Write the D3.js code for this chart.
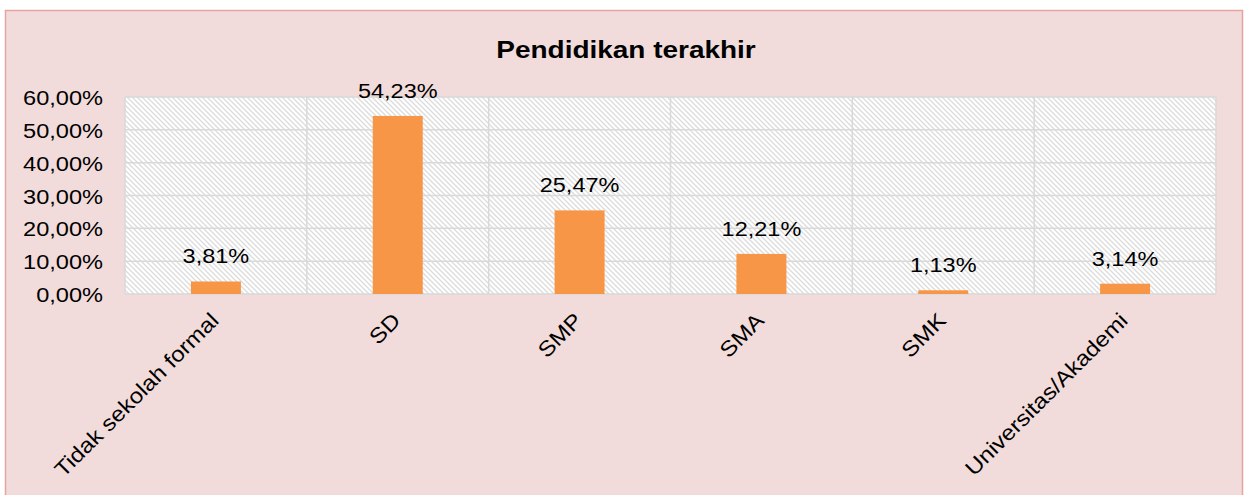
<!DOCTYPE html>
<html>
<head>
<meta charset="utf-8">
<title>Pendidikan terakhir</title>
<script src="https://d3js.org/d3.v7.min.js"></script>
<style>
    body { margin: 0; background: #ffffff; }
    text { font-family: "Liberation Sans", Arial, sans-serif; fill: #000; }
</style>
</head>
<body>
<div id="chart"></div>
<script>
    var categories = ["Tidak sekolah formal", "SD", "SMP", "SMA", "SMK", "Universitas/Akademi"];
    var values = [3.81, 54.23, 25.47, 12.21, 1.13, 3.14];
    var yTicks = [0, 10, 20, 30, 40, 50, 60];

    var width = 1245, height = 495;
    var margin = { left: 125, right: 29, top: 97, bottom: 201 };
    var pct = function (d) { return d3.format(".2f")(d).replace(".", ",") + "%"; };

    var svg = d3.select("#chart").append("svg")
        .attr("width", width)
        .attr("height", height);

    // hatch pattern for plot background
    var defs = svg.append("defs");
    var pat = defs.append("pattern")
        .attr("id", "hatch")
        .attr("patternUnits", "userSpaceOnUse")
        .attr("width", 5)
        .attr("height", 5);
    pat.append("rect").attr("width", 5).attr("height", 5).attr("fill", "#ffffff");
    pat.append("path")
        .attr("d", "M-1,-1 L6,6 M-1,4 L1,6 M4,-1 L6,1")
        .attr("stroke", "#dcdcdc")
        .attr("stroke-width", 1.3);

    // outer chart area
    svg.append("rect")
        .attr("x", 5.5).attr("y", 10.5)
        .attr("width", 1237).attr("height", 490)
        .attr("fill", "#f2dcdb")
        .attr("stroke", "#e6a3a3")
        .attr("stroke-width", 1.5);

    svg.append("text")
        .attr("transform", "translate(626,58) scale(1.19,1)")
        .attr("text-anchor", "middle")
        .attr("font-size", 23.5)
        .attr("font-weight", "bold")
        .text("Pendidikan terakhir");

    var x = d3.scaleBand()
        .domain(categories)
        .range([margin.left, width - margin.right])
        .paddingInner(0).paddingOuter(0);

    var y = d3.scaleLinear()
        .domain([0, 60])
        .range([height - margin.bottom, margin.top]);

    svg.append("rect")
        .attr("x", margin.left).attr("y", margin.top)
        .attr("width", x.range()[1] - margin.left)
        .attr("height", y(0) - margin.top)
        .attr("fill", "url(#hatch)");

    // horizontal gridlines
    svg.append("g").selectAll("line")
        .data(yTicks)
        .enter().append("line")
        .attr("x1", margin.left).attr("x2", x.range()[1])
        .attr("y1", function (d) { return y(d); })
        .attr("y2", function (d) { return y(d); })
        .attr("stroke", "#d9d9d9")
        .attr("stroke-width", 1.5);

    // vertical gridlines at category boundaries
    var bounds = categories.map(function (c) { return x(c); }).concat([x.range()[1]]);
    svg.append("g").selectAll("line")
        .data(bounds)
        .enter().append("line")
        .attr("x1", function (d) { return d; })
        .attr("x2", function (d) { return d; })
        .attr("y1", margin.top).attr("y2", y(0))
        .attr("stroke", "#d9d9d9")
        .attr("stroke-width", 1.5);

    // y axis labels
    svg.append("g").selectAll("text")
        .data(yTicks)
        .enter().append("text")
        .attr("transform", function (d) { return "translate(103," + (y(d) + 8) + ") scale(1.15,1)"; })
        .attr("text-anchor", "end")
        .attr("font-size", 20.5)
        .text(pct);

    var barW = 50;
    var cx = function (c) { return x(c) + x.bandwidth() / 2; };

    svg.append("g").selectAll("rect")
        .data(values)
        .enter().append("rect")
        .attr("x", function (d, i) { return cx(categories[i]) - barW / 2; })
        .attr("y", function (d) { return y(d); })
        .attr("width", barW)
        .attr("height", function (d) { return y(0) - y(d); })
        .attr("fill", "#f79646");

    svg.append("g").selectAll("text")
        .data(values)
        .enter().append("text")
        .attr("transform", function (d, i) {
            return "translate(" + cx(categories[i]) + "," + (y(d) - 18) + ") scale(1.12,1)";
        })
        .attr("text-anchor", "middle")
        .attr("font-size", 21)
        .text(pct);

    // rotated category labels
    svg.append("g").selectAll("text")
        .data(categories)
        .enter().append("text")
        .attr("transform", function (c) {
            return "translate(" + (cx(c) + 4) + "," + (y(0) + 28) + ") rotate(-45) scale(1.12,1)";
        })
        .attr("text-anchor", "end")
        .attr("font-size", 21.5)
        .text(function (c) { return c; });
</script>
</body>
</html>
